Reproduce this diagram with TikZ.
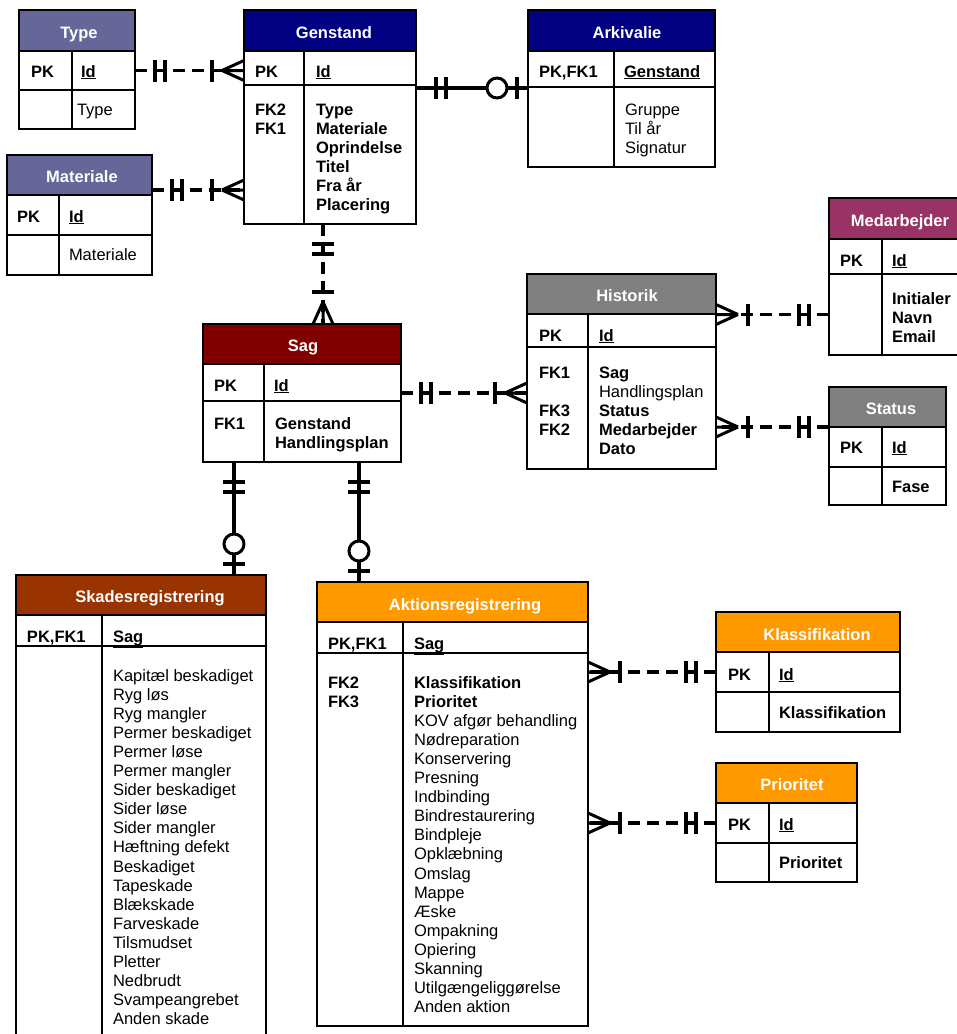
\documentclass[tikz,border=0pt]{standalone}
\usepackage{fontspec}
\setmainfont{Liberation Sans}
\usetikzlibrary{decorations.markings}

\definecolor{slatehd}{HTML}{666699}
\definecolor{navyhd}{HTML}{000080}
\definecolor{plumhd}{HTML}{993366}
\definecolor{greyhd}{HTML}{808080}
\definecolor{maroonhd}{HTML}{800000}
\definecolor{rusthd}{HTML}{993300}
\definecolor{orangehd}{HTML}{FF9900}

\tikzset{
  every node/.style={font=\fontsize{16.5pt}{19.1pt}\selectfont, inner sep=0pt, outer sep=0pt},
  cellbox/.style={draw, line width=2.3pt, anchor=north west, inner sep=0pt},
  txt/.style={anchor=base west},
  hdrtxt/.style={anchor=base, text=white, font=\fontsize{16.5pt}{19.1pt}\selectfont\bfseries},
  conn/.style={line width=3.5pt},
  dsh/.style={dash pattern=on 12pt off 7pt},
  tick/.style={solid, line width=3.5pt},
  % mandatory one: two bars next to the parent entity
  mone/.style={postaction={decorate,decoration={markings,
    mark=at position 20pt with {\draw[tick] (0pt,-11pt) -- (0pt,11pt);},
    mark=at position 30pt with {\draw[tick] (0pt,-11pt) -- (0pt,11pt);}}}},
  % one or many: bar plus crow's foot at the child entity
  mmany/.style={postaction={decorate,decoration={markings,
    mark=at position -32pt with {\draw[tick] (0pt,-11pt) -- (0pt,11pt);},
    mark=at position -22pt with {\draw[solid, line width=3pt]
       (22pt,10pt) -- (0pt,0pt) (0pt,0pt) -- (22pt,-10pt) (0pt,0pt) -- (22pt,0pt);}}}},
  % zero or one: circle plus bar at the child entity
  mzero/.style={postaction={decorate,decoration={markings,
    mark=at position -11pt with {\draw[tick] (0pt,-11pt) -- (0pt,11pt);},
    mark=at position -31pt with {\draw[solid, line width=3pt, fill=white] (0pt,0pt) circle[radius=10pt];}}}},
}

% entity box: name, colour, x-left, x-right, x-divider, y-top, y-header, y-key, y-bottom
\newcommand{\erentity}[9]{%
  \node[cellbox, fill=#2, minimum width={#4-#3}, minimum height={#7-#6}] (#1H) at (#3,#6) {};
  \node[cellbox, fill=white, minimum width={#4-#3}, minimum height={#8-#7}] (#1K) at (#3,#7) {};
  \node[cellbox, fill=white, minimum width={#4-#3}, minimum height={#9-#8}] (#1A) at (#3,#8) {};
  \draw[line width=2.3pt] (#5,#7) -- (#5,#9);
}

\begin{document}
\begin{tikzpicture}[x=1pt, y=-1pt]
\useasboundingbox (0,0) rectangle (957,1034);
\clip (0,0) rectangle (957,1034);
\fill[white] (0,0) rectangle (957,1034);

% ---------- entities ----------
\erentity{typ}{slatehd}{19}{135}{72}{10}{51}{90}{129}
\erentity{mat}{slatehd}{7}{152}{59}{155}{195}{235}{275}
\erentity{gen}{navyhd}{244}{416}{304}{10}{51}{85}{224}
\erentity{ark}{navyhd}{528}{715}{614}{10}{51}{87}{167}
\erentity{sag}{maroonhd}{203}{401}{264}{324}{364}{401}{462}
\erentity{his}{greyhd}{527}{716}{588}{274}{314}{347}{469}
\erentity{med}{plumhd}{829}{970}{882}{198}{239}{274}{355}
\erentity{sta}{greyhd}{829}{946}{882}{387}{427}{467}{505}
\erentity{kla}{orangehd}{716}{900}{769}{612}{652}{692}{732}
\erentity{pri}{orangehd}{716}{857}{769}{763}{803}{843}{882}
\erentity{ska}{rusthd}{16}{266}{102}{575}{615}{646}{1050}
\erentity{akt}{orangehd}{317}{588}{403}{582}{622}{653}{1026}

% ---------- headers ----------
\node[hdrtxt] (typT) at (79,38) {Type};
\node[hdrtxt] (matT) at (82,182) {Materiale};
\node[hdrtxt] (genT) at (334,38) {Genstand};
\node[hdrtxt] (arkT) at (627,38) {Arkivalie};
\node[hdrtxt] (sagT) at (303,351) {Sag};
\node[hdrtxt] (hisT) at (627,301) {Historik};
\node[hdrtxt] (medT) at (900,226) {Medarbejder};
\node[hdrtxt] (staT) at (891,414) {Status};
\node[hdrtxt] (klaT) at (817,640) {Klassifikation};
\node[hdrtxt] (priT) at (792,790) {Prioritet};
\node[hdrtxt] (skaT) at (150,602) {Skadesregistrering};
\node[hdrtxt] (aktT) at (465,610) {Aktionsregistrering};

% ---------- Type ----------
\node[txt] (typPK) at (31,77) {\bfseries PK};
\node[txt] (typId) at (81,77) {\bfseries\underline{Id}};
\node[txt] (typA1) at (77,115) {Type};

% ---------- Materiale ----------
\node[txt] (matPK) at (17,222) {\bfseries PK};
\node[txt] (matId) at (69,222) {\bfseries\underline{Id}};
\node[txt] (matA1) at (69,260) {Materiale};

% ---------- Genstand ----------
\node[txt] (genPK) at (255,77) {\bfseries PK};
\node[txt] (genId) at (316,77) {\bfseries\underline{Id}};
\node[txt] (genF2) at (255,115) {\bfseries FK2};
\node[txt] (genF1) at (255,134.1) {\bfseries FK1};
\foreach \t [count=\i from 0] in {Type, Materiale, Oprindelse, Titel, Fra år, Placering}
  \node[txt] (genA\i) at (316,115+19.1*\i) {\bfseries\t};

% ---------- Arkivalie ----------
\node[txt] (arkPK) at (539,77) {\bfseries PK,FK1};
\node[txt] (arkId) at (624,77) {\bfseries\underline{Genstand}};
\foreach \t [count=\i from 0] in {Gruppe, Til år, Signatur}
  \node[txt] (arkA\i) at (625,115+19.1*\i) {\t};

% ---------- Sag ----------
\node[txt] (sagPK) at (214,391) {\bfseries PK};
\node[txt] (sagId) at (274,391) {\bfseries\underline{Id}};
\node[txt] (sagF1) at (214,429) {\bfseries FK1};
\foreach \t [count=\i from 0] in {Genstand, Handlingsplan}
  \node[txt] (sagA\i) at (275,429+19.1*\i) {\bfseries\t};

% ---------- Historik ----------
\node[txt] (hisPK) at (539,341) {\bfseries PK};
\node[txt] (hisId) at (599,341) {\bfseries\underline{Id}};
\node[txt] (hisF1) at (539,378) {\bfseries FK1};
\node[txt] (hisF3) at (539,416.2) {\bfseries FK3};
\node[txt] (hisF2) at (539,435.3) {\bfseries FK2};
\foreach \t [count=\i from 0] in {\textbf{Sag}, Handlingsplan, \textbf{Status}, \textbf{Medarbejder}, \textbf{Dato}}
  \node[txt] (hisA\i) at (599,378+19.1*\i) {\t};

% ---------- Medarbejder ----------
\node[txt] (medPK) at (840,266) {\bfseries PK};
\node[txt] (medId) at (892,266) {\bfseries\underline{Id}};
\foreach \t [count=\i from 0] in {Initialer, Navn, Email}
  \node[txt] (medA\i) at (892,304+19.1*\i) {\bfseries\t};

% ---------- Status ----------
\node[txt] (staPK) at (840,453) {\bfseries PK};
\node[txt] (staId) at (892,453) {\bfseries\underline{Id}};
\node[txt] (staA1) at (892,492) {\bfseries Fase};

% ---------- Klassifikation ----------
\node[txt] (klaPK) at (728,680) {\bfseries PK};
\node[txt] (klaId) at (779,680) {\bfseries\underline{Id}};
\node[txt] (klaA1) at (779,718) {\bfseries Klassifikation};

% ---------- Prioritet ----------
\node[txt] (priPK) at (728,830) {\bfseries PK};
\node[txt] (priId) at (779,830) {\bfseries\underline{Id}};
\node[txt] (priA1) at (779,868) {\bfseries Prioritet};

% ---------- Skadesregistrering ----------
\node[txt] (skaPK) at (27,642) {\bfseries PK,FK1};
\node[txt] (skaId) at (113,642) {\bfseries\underline{Sag}};
\foreach \t [count=\i from 0] in {Kapitæl beskadiget, Ryg løs, Ryg mangler, Permer beskadiget,
    Permer løse, Permer mangler, Sider beskadiget, Sider løse, Sider mangler, Hæftning defekt,
    Beskadiget, Tapeskade, Blækskade, Farveskade, Tilsmudset, Pletter, Nedbrudt,
    Svampeangrebet, Anden skade}
  \node[txt] (skaA\i) at (113,681+19.1*\i) {\t};

% ---------- Aktionsregistrering ----------
\node[txt] (aktPK) at (328,649) {\bfseries PK,FK1};
\node[txt] (aktId) at (414,649) {\bfseries\underline{Sag}};
\node[txt] (aktF2) at (328,688) {\bfseries FK2};
\node[txt] (aktF3) at (328,707.1) {\bfseries FK3};
\foreach \t [count=\i from 0] in {\textbf{Klassifikation}, \textbf{Prioritet}, KOV afgør behandling,
    Nødreparation, Konservering, Presning, Indbinding, Bindrestaurering, Bindpleje,
    Opklæbning, Omslag, Mappe, Æske, Ompakning, Opiering, Skanning,
    Utilgængeliggørelse, Anden aktion}
  \node[txt] (aktA\i) at (414,688+19.1*\i) {\t};

% ---------- relationships ----------
\coordinate (c1) at (typK.east);
\coordinate (c2) at ([yshift=5pt]matH.south east);
\coordinate (c3) at ([yshift=-3pt]genA.north east);
\coordinate (c4) at ([xshift=-7pt]genA.south);
\coordinate (c5) at ([yshift=-10.5pt]sagK.east);
\coordinate (c6) at (medA.west);
\coordinate (c7) at (staH.south west);
\coordinate (c8) at ([xshift=31pt]sagA.south west);
\coordinate (c9) at ([xshift=156pt]sagA.south west);
\coordinate (c10) at (klaK.west);
\coordinate (c11) at (priK.west);

\draw[conn, dsh, mone, mmany] (c1) -- (c1 -| genK.west);
\draw[conn, dsh, mone, mmany] (c2) -- (c2 -| genA.west);
\draw[conn, mone, mzero] (c3) -- (c3 -| arkA.west);
\draw[conn, dsh, mone, mmany] (c4) -- (c4 |- sagH.north);
\draw[conn, dsh, mone, mmany] (c5) -- (c5 -| hisA.west);
\draw[conn, dsh, mone, mmany] (c6) -- (c6 -| hisA.east);
\draw[conn, dsh, mone, mmany] (c7) -- (c7 -| hisA.east);
\draw[conn, mone, mzero] (c8) -- (c8 |- skaH.north);
\draw[conn, mone, mzero] (c9) -- (c9 |- aktH.north);
\draw[conn, dsh, mone, mmany] (c10) -- (c10 -| aktA.east);
\draw[conn, dsh, mone, mmany] (c11) -- (c11 -| aktA.east);
\end{tikzpicture}
\end{document}
